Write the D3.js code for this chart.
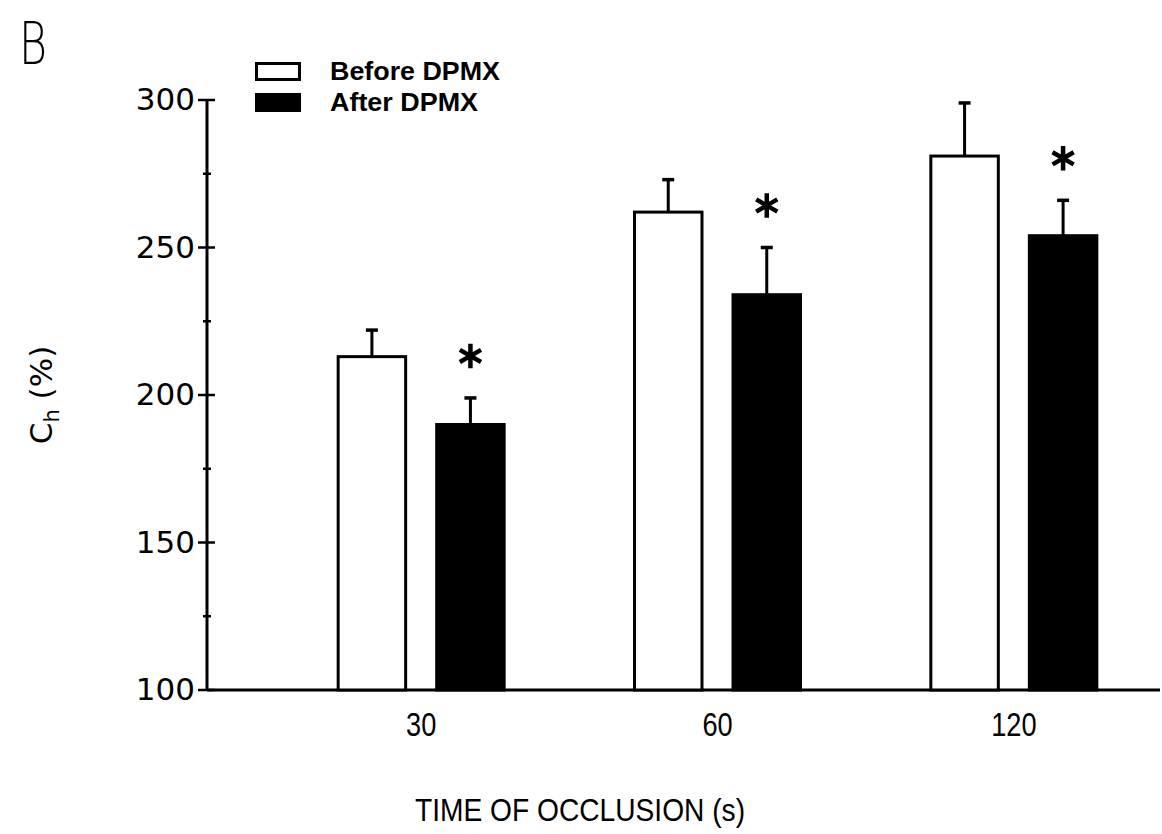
<!DOCTYPE html>
<html>
<head>
<meta charset="utf-8">
<script src="https://cdn.jsdelivr.net/npm/d3@7"></script>
<style>
  body { margin: 0; background: #fff; }
</style>
</head>
<body>
<div id="chart"></div>
<script>
// values
const groups = ['30', '60', '120'];
const series = ['Before DPMX', 'After DPMX'];
const beforeValues = [213, 262, 281];
const beforeErrors = [9, 11, 18];
const afterValues = [190, 234, 254];
const afterErrors = [9, 16, 12];
const significant = [true, true, true];
const yTicks = [100, 150, 200, 250, 300];
const yMinorTicks = [125, 175, 225, 275];

const width = 1162, height = 834;
const axisLeftX = 207, axisRightX = 1160;

const svg = d3.select('#chart').append('svg')
    .attr('width', width)
    .attr('height', height);

const x0 = d3.scaleBand()
    .domain(groups)
    .range([273, 1162])
    .padding(0);

const x1 = d3.scaleBand()
    .domain(series)
    .range([-83, 83])
    .paddingInner(0.315)
    .paddingOuter(0);

const y = d3.scaleLinear()
    .domain([100, 300])
    .range([690, 100]);

// build rows from the arrays
const rows = groups.map((g, i) => ({
    group: g,
    bars: [
        {key: series[0], value: beforeValues[i], err: beforeErrors[i], fill: '#fff'},
        {key: series[1], value: afterValues[i], err: afterErrors[i], fill: '#000'}
    ],
    star: significant[i]
}));

// y axis
const yAxis = svg.append('g')
    .attr('transform', 'translate(' + axisLeftX + ',0)')
    .call(d3.axisLeft(y).tickValues(yTicks).tickSize(0).tickPadding(12).tickFormat(d3.format('d')));
yAxis.select('.domain').remove();
yAxis.selectAll('text')
    .attr('font-family', '"DejaVu Sans", sans-serif')
    .attr('font-size', 31)
    .attr('fill', '#000');

yAxis.append('line')
    .attr('x1', 0).attr('x2', 0)
    .attr('y1', y(300)).attr('y2', y(100))
    .attr('stroke', '#000').attr('stroke-width', 3);

yAxis.selectAll('.major')
    .data(yTicks)
    .join('line')
    .attr('class', 'major')
    .attr('x1', -9).attr('x2', 8)
    .attr('y1', d => y(d)).attr('y2', d => y(d))
    .attr('stroke', '#000').attr('stroke-width', 2.5);

yAxis.selectAll('.minor')
    .data(yMinorTicks)
    .join('line')
    .attr('class', 'minor')
    .attr('x1', -4).attr('x2', 4)
    .attr('y1', d => y(d)).attr('y2', d => y(d))
    .attr('stroke', '#000').attr('stroke-width', 2.5);

// x axis
const xAxis = svg.append('g')
    .attr('transform', 'translate(0,' + y(100) + ')')
    .call(d3.axisBottom(x0).tickSize(0).tickPadding(22));
xAxis.select('.domain').remove();
xAxis.selectAll('text')
    .attr('font-family', '"Liberation Sans", Arial, sans-serif')
    .attr('font-size', 34)
    .attr('transform', 'scale(0.8,1)')
    .attr('fill', '#000');

svg.append('line')
    .attr('x1', axisLeftX).attr('x2', axisRightX)
    .attr('y1', y(100)).attr('y2', y(100))
    .attr('stroke', '#000').attr('stroke-width', 3);

// bars
const grp = svg.selectAll('.grp')
    .data(rows)
    .join('g')
    .attr('class', 'grp')
    .attr('transform', d => 'translate(' + (x0(d.group) + x0.bandwidth() / 2) + ',0)');

const bar = grp.selectAll('.bar')
    .data(d => d.bars)
    .join('g')
    .attr('class', 'bar');

bar.append('line')
    .attr('x1', d => x1(d.key) + x1.bandwidth() / 2)
    .attr('x2', d => x1(d.key) + x1.bandwidth() / 2)
    .attr('y1', d => y(d.value))
    .attr('y2', d => y(d.value + d.err))
    .attr('stroke', '#000').attr('stroke-width', 3);

bar.append('line')
    .attr('x1', d => x1(d.key) + x1.bandwidth() / 2 - 6)
    .attr('x2', d => x1(d.key) + x1.bandwidth() / 2 + 6)
    .attr('y1', d => y(d.value + d.err))
    .attr('y2', d => y(d.value + d.err))
    .attr('stroke', '#000').attr('stroke-width', 3.5);

bar.append('rect')
    .attr('x', d => x1(d.key))
    .attr('y', d => y(d.value))
    .attr('width', x1.bandwidth())
    .attr('height', d => y(100) - y(d.value))
    .attr('fill', d => d.fill)
    .attr('stroke', '#000')
    .attr('stroke-width', 3);

// significance stars above the after bars
grp.filter(d => d.star)
    .append('path')
    .attr('transform', d => 'translate(' + (x1(series[1]) + x1.bandwidth() / 2) + ',' +
        (y(d.bars[1].value + d.bars[1].err) - 42) + ')')
    .attr('d', d3.symbol(d3.symbolAsterisk, 420))
    .attr('fill', 'none')
    .attr('stroke', '#000')
    .attr('stroke-width', 4.5);

// legend
const legend = svg.append('g')
    .attr('transform', 'translate(255,62)');

const legendItem = legend.selectAll('g')
    .data(rows[0].bars)
    .join('g')
    .attr('transform', (d, i) => 'translate(0,' + i * 31 + ')');

legendItem.append('rect')
    .attr('x', 1.5).attr('y', 1.5)
    .attr('width', 43).attr('height', 16)
    .attr('fill', d => d.fill)
    .attr('stroke', '#000')
    .attr('stroke-width', 3);

legendItem.append('text')
    .attr('x', 75)
    .attr('y', 18)
    .attr('font-family', '"Liberation Sans", Arial, sans-serif')
    .attr('font-weight', 'bold')
    .attr('font-size', 26)
    .attr('textLength', d => d.key === series[0] ? 170 : 148)
    .attr('lengthAdjust', 'spacingAndGlyphs')
    .text(d => d.key);

// panel letter
svg.append('text')
    .attr('x', 19)
    .attr('y', 64)
    .attr('font-family', '"DejaVu Sans", sans-serif')
    .attr('font-weight', 200)
    .attr('font-size', 58)
    .attr('textLength', 28)
    .attr('lengthAdjust', 'spacingAndGlyphs')
    .attr('fill', '#000')
    .text('B');

// y axis title
const yTitle = svg.append('text')
    .attr('transform', 'translate(52,395) rotate(-90)')
    .attr('text-anchor', 'middle')
    .attr('font-family', '"DejaVu Sans", sans-serif')
    .attr('font-size', 31);
yTitle.append('tspan').text('C');
yTitle.append('tspan').attr('font-size', 21).attr('dy', 7).text('h');
yTitle.append('tspan').attr('dy', -7).text(' (%)');

// x axis title
svg.append('text')
    .attr('x', 580)
    .attr('y', 821)
    .attr('text-anchor', 'middle')
    .attr('font-family', '"Liberation Sans", Arial, sans-serif')
    .attr('font-size', 32)
    .attr('textLength', 330)
    .attr('lengthAdjust', 'spacingAndGlyphs')
    .text('TIME OF OCCLUSION (s)');
</script>
</body>
</html>
